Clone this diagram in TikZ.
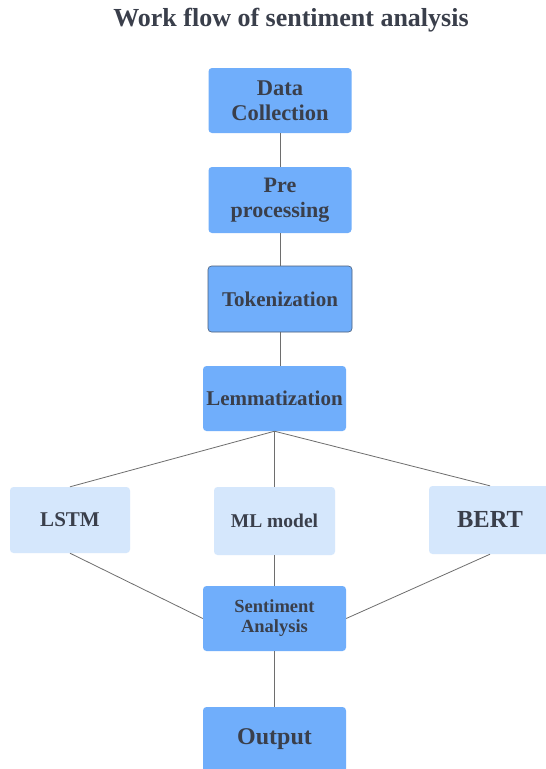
\documentclass[tikz,border=0pt]{standalone}
\usepackage{fontspec}
\setmainfont{Liberation Serif}
\definecolor{mainblue}{HTML}{70AEFB}
\definecolor{lightblue}{HTML}{D5E7FC}
\definecolor{txt}{HTML}{3A3F4B}
\definecolor{edge}{HTML}{6E6E6E}
\definecolor{tokborder}{HTML}{4A5D78}
\begin{document}
\begin{tikzpicture}[x=1pt,y=1pt,
  box/.style={rectangle, rounded corners=3.5pt, fill=mainblue, draw=none, inner sep=0pt,
    minimum width=143pt, minimum height=65pt, align=center, text=txt, font=\bfseries},
  lbox/.style={box, fill=lightblue},
  conn/.style={draw=edge, line width=0.8pt}]
\useasboundingbox (0,0) rectangle (546,-769);
\fill[white] (0,0) rectangle (546,-769);
\node[text=txt, font=\bfseries\fontsize{26}{30}\selectfont] (title) at (291,-20) {Work flow of sentiment analysis};
\node[box, font=\bfseries\fontsize{22.5}{25}\selectfont] (dc) at (280,-100.5) {Data\\Collection};
\node[box, font=\bfseries\fontsize{22}{25}\selectfont, minimum height=66pt] (pp) at (280,-200) {Pre\\processing};
\node[box, draw=tokborder, line width=0.6pt, font=\bfseries\fontsize{21}{24}\selectfont, minimum width=144pt, minimum height=66pt] (tok) at (280,-299) {Tokenization};
\node[box, font=\bfseries\fontsize{21}{24}\selectfont] (lem) at (274.5,-398.5) {Lemmatization};
\node[lbox, font=\bfseries\fontsize{21}{24}\selectfont, minimum width=120pt, minimum height=66pt] (lstm) at (70,-520) {LSTM};
\node[lbox, font=\bfseries\fontsize{19.5}{22}\selectfont, minimum width=121pt, minimum height=68pt] (ml) at (274.5,-521) {ML model};
\node[lbox, font=\bfseries\fontsize{24.5}{28}\selectfont, minimum width=122pt, minimum height=68pt] (bert) at (490,-520) {BERT};
\node[box, font=\bfseries\fontsize{18.5}{20}\selectfont] (sa) at (274.5,-618.5) {Sentiment\\Analysis};
\node[box, font=\bfseries\fontsize{24}{28}\selectfont] (out) at (274.5,-739.5) {Output};
\draw[conn] (dc.south) -- (pp.north);
\draw[conn] (pp.south) -- (tok.north);
\draw[conn] (tok.south) -- (tok.south |- lem.north);
\draw[conn] (lem.south) -- (lstm.north);
\draw[conn] (lem.south) -- (ml.north);
\draw[conn] (lem.south) -- (bert.north);
\draw[conn] (lstm.south) -- (sa.west);
\draw[conn] (ml.south) -- (sa.north);
\draw[conn] (bert.south) -- (sa.east);
\draw[conn] (sa.south) -- (out.north);
\end{tikzpicture}
\end{document}
